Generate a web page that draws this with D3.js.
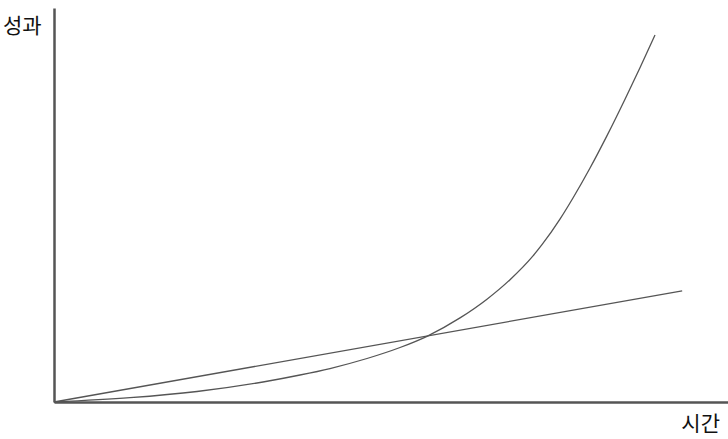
<!DOCTYPE html>
<html>
<head>
<meta charset="utf-8">
<script src="https://cdn.jsdelivr.net/npm/d3@7"></script>
<style>
  body { margin: 0; background: #fff; }
  text { font-family: "Noto Sans CJK KR", "Noto Sans", sans-serif; }
</style>
</head>
<body>
<svg id="chart"></svg>
<script>
// 지수 성장 곡선 (시간, 성과)
const curveTime = [0, 11.28, 21.22, 31.01, 36.50, 40.95, 46.44, 51.34, 55.34, 60.24, 64.24, 67.66, 71.07, 72.40, 75.07, 77.00, 79.53, 82.05, 84.72, 86.94, 89.17];
const curveValue = [0, 1.09, 2.66, 5.08, 6.85, 8.50, 11.04, 13.83, 16.67, 21.34, 26.09, 31.04, 37.08, 39.92, 46.42, 51.78, 59.39, 67.61, 76.85, 84.85, 93.15];

// 선형 성장 직선
const lineTime = [0, 93.2];
const lineValue = [0, 28.2];

const axisLabels = ['시간', '성과'];

const width = 728, height = 439;
const margin = { top: 8, right: 0, bottom: 37, left: 54 };

const x = d3.scaleLinear()
  .domain([0, 100])
  .range([margin.left, width - margin.right]);

const y = d3.scaleLinear()
  .domain([0, 100])
  .range([height - margin.bottom, margin.top]);

const svg = d3.select('#chart')
  .attr('width', width)
  .attr('height', height);

const line = d3.line()
  .x(d => x(d[0]))
  .y(d => y(d[1]));

// 직선
svg.append('path')
  .datum(d3.zip(lineTime, lineValue))
  .attr('fill', 'none')
  .attr('stroke', '#555')
  .attr('stroke-width', 1.3)
  .attr('d', line);

// 곡선
svg.append('path')
  .datum(d3.zip(curveTime, curveValue))
  .attr('fill', 'none')
  .attr('stroke', '#555')
  .attr('stroke-width', 1.3)
  .attr('d', line.curve(d3.curveMonotoneX));

// 축 (눈금 없음)
svg.append('g')
  .attr('transform', `translate(0, ${ y(0) })`)
  .call(d3.axisBottom(x).ticks(0).tickSizeOuter(0));

svg.append('g')
  .attr('transform', `translate(${ x(0) }, 0)`)
  .call(d3.axisLeft(y).ticks(0).tickSizeOuter(0));

svg.selectAll('.domain')
  .attr('stroke', '#555')
  .attr('stroke-width', 2.5);

svg.append('text')
  .attr('x', 720)
  .attr('y', 431)
  .attr('text-anchor', 'end')
  .attr('font-size', 21)
  .attr('fill', '#111')
  .text(axisLabels[0]);

svg.append('text')
  .attr('x', 3)
  .attr('y', 33)
  .attr('font-size', 21)
  .attr('fill', '#111')
  .text(axisLabels[1]);
</script>
</body>
</html>
